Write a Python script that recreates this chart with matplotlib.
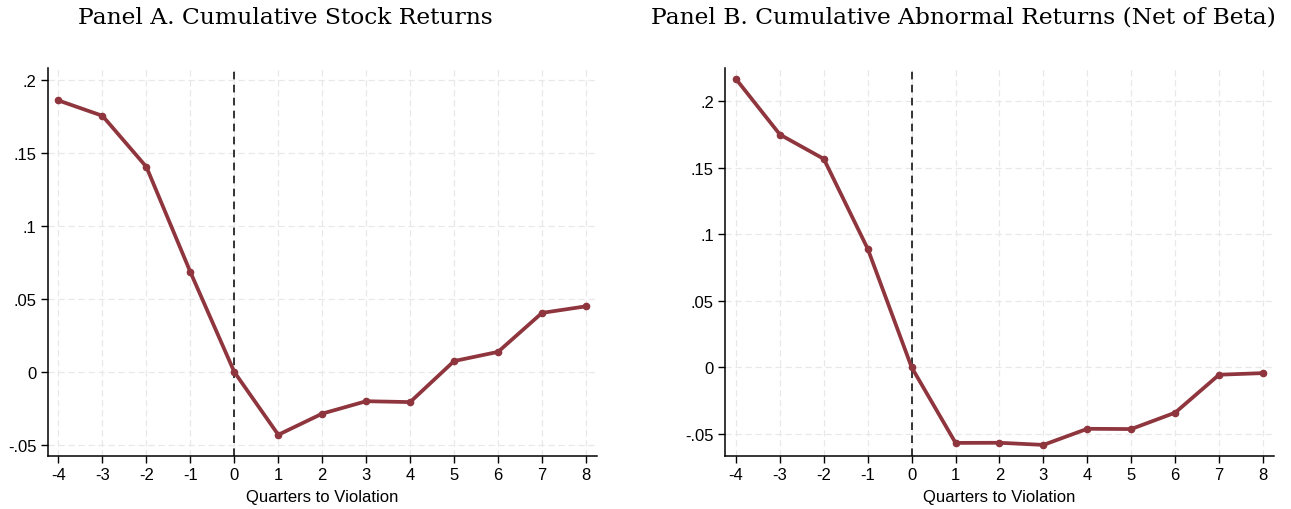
import numpy as np
import matplotlib
matplotlib.use("Agg")
import matplotlib.pyplot as plt

quarters = [-4, -3, -2, -1, 0, 1, 2, 3, 4, 5, 6, 7, 8]
stock_returns = [0.186, 0.1755, 0.1405, 0.0685, 0.0, -0.043, -0.0285, -0.020, -0.0206, 0.0075, 0.0138, 0.0405, 0.045]
abnormal_returns = [0.2165, 0.1748, 0.1565, 0.0890, 0.0, -0.0567, -0.0566, -0.0582, -0.0461, -0.0463, -0.0340, -0.0055, -0.0043]

yticks_a = [-0.05, 0, 0.05, 0.1, 0.15, 0.2]
ylabels_a = ["-.05", "0", ".05", ".1", ".15", ".2"]
yticks_b = [-0.05, 0, 0.05, 0.1, 0.15, 0.2]
ylabels_b = ["-.05", "0", ".05", ".1", ".15", ".2"]

titles = ["Panel A. Cumulative Stock Returns",
          "Panel B. Cumulative Abnormal Returns (Net of Beta)"]
xlabel = "Quarters to Violation"

line_color = "#8f353d"

fig = plt.figure(figsize=(12.91, 5.10), dpi=100)
ax_a = fig.add_axes([0.0368, 0.104, 0.4256, 0.760])
ax_b = fig.add_axes([0.5616, 0.104, 0.4252, 0.760])


def draw_panel(ax, y, yticks, ylabels, ylim, title, title_x):
    ax.axvline(0, color="black", lw=1.1, ls=(0, (5, 3.5)), zorder=2)
    ax.plot(quarters, y, color=line_color, lw=2.7, marker="o", ms=4.5, zorder=3)
    ax.set_xlim(-4.25, 8.25)
    ax.set_ylim(*ylim)
    ax.set_xticks(quarters)
    ax.set_xticklabels([str(q) for q in quarters])
    ax.set_yticks(yticks)
    ax.set_yticklabels(ylabels)
    ax.grid(True, color="#e8e8e8", ls=(0, (5, 3)), lw=0.9, zorder=0)
    ax.set_axisbelow(True)
    for side in ["top", "right"]:
        ax.spines[side].set_visible(False)
    for side in ["left", "bottom"]:
        ax.spines[side].set_linewidth(1.1)
    ax.tick_params(direction="out", length=5, width=1.0, labelsize=12,
                   colors="black", pad=3)
    for lab in ax.get_xticklabels() + ax.get_yticklabels():
        lab.set_family("Liberation Sans")
    ax.set_xlabel(xlabel, fontsize=12, family="Liberation Sans", labelpad=5)
    fig.text(title_x, 0.965, title, ha="center", va="center",
             fontsize=16.8, family="DejaVu Serif")


draw_panel(ax_a, stock_returns, yticks_a, ylabels_a, (-0.0575, 0.208), titles[0], 0.2211)
draw_panel(ax_b, abnormal_returns, yticks_b, ylabels_b, (-0.0665, 0.2245), titles[1], 0.746)

fig.savefig("out.png", dpi=100)
